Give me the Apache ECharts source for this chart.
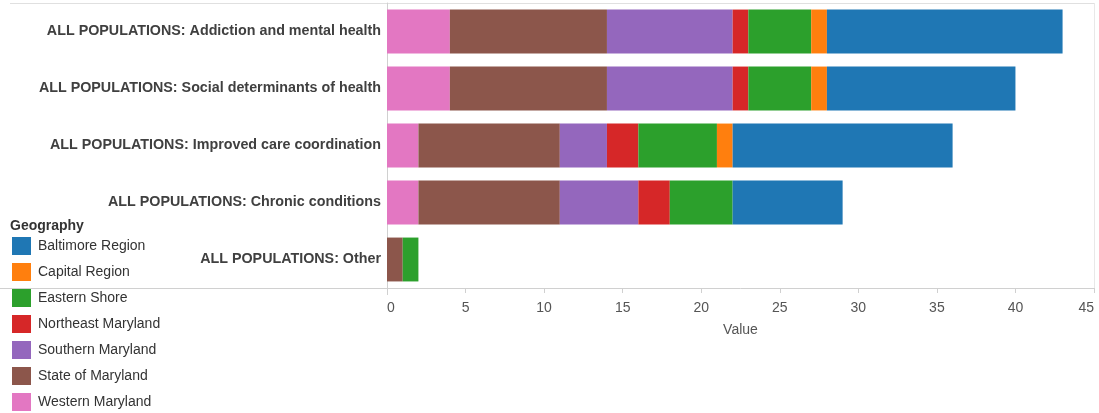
<!DOCTYPE html>
<html>
<head>
<meta charset="utf-8">
<script src="https://cdn.jsdelivr.net/npm/echarts@6/dist/echarts.min.js"></script>
<style>
html,body{margin:0;padding:0;background:#fff;}
#chart{width:1099px;height:413px;}
</style>
</head>
<body>
<div id="chart"></div>
<script>
var categories = [
  'ALL POPULATIONS: Addiction and mental health',
  'ALL POPULATIONS: Social determinants of health',
  'ALL POPULATIONS: Improved care coordination',
  'ALL POPULATIONS: Chronic conditions',
  'ALL POPULATIONS: Other'
];
var westernMaryland   = [4, 4, 2, 2, 0];
var stateOfMaryland   = [10, 10, 9, 9, 1];
var southernMaryland  = [8, 8, 3, 5, 0];
var northeastMaryland = [1, 1, 2, 2, 0];
var easternShore      = [4, 4, 5, 4, 1];
var capitalRegion     = [1, 1, 1, 0, 0];
var baltimoreRegion   = [15, 12, 14, 7, 0];
var xTicks = [0, 5, 10, 15, 20, 25, 30, 35, 40, 45];

var seriesDefs = [
  {name: 'Western Maryland', data: westernMaryland, color: '#e377c2'},
  {name: 'State of Maryland', data: stateOfMaryland, color: '#8c564b'},
  {name: 'Southern Maryland', data: southernMaryland, color: '#9467bd'},
  {name: 'Northeast Maryland', data: northeastMaryland, color: '#d62728'},
  {name: 'Eastern Shore', data: easternShore, color: '#2ca02c'},
  {name: 'Capital Region', data: capitalRegion, color: '#ff7f0e'},
  {name: 'Baltimore Region', data: baltimoreRegion, color: '#1f77b4'}
];
var legendOrder = ['Baltimore Region','Capital Region','Eastern Shore','Northeast Maryland','Southern Maryland','State of Maryland','Western Maryland'];

var chart = echarts.init(document.getElementById('chart'), null, {renderer: 'canvas'});
var font = '"Liberation Sans", Arial, sans-serif';
chart.setOption({
  animation: false,
  textStyle: {fontFamily: font},
  grid: {left: 387, right: 5, top: 3, bottom: 125, containLabel: false, outerBoundsMode: 'none'},
  xAxis: {
    type: 'value', min: xTicks[0], max: xTicks[xTicks.length - 1], interval: 5,
    name: 'Value', nameLocation: 'middle', nameGap: 35,
    nameTextStyle: {color: '#555', fontSize: 14, fontFamily: font},
    axisLine: {show: true, lineStyle: {color: '#d0d0d0'}},
    axisTick: {show: true, length: 5, lineStyle: {color: '#d0d0d0'}},
    axisLabel: {color: '#555', fontSize: 14, margin: 13, fontFamily: font,
      alignMinLabel: 'left', alignMaxLabel: 'right'},
    splitLine: {show: false}
  },
  yAxis: {
    type: 'category', data: categories, inverse: true,
    axisLine: {show: true, lineStyle: {color: '#d0d0d0'}},
    axisTick: {show: false},
    axisLabel: {color: '#404040', fontSize: 14.3, fontWeight: 'bold', margin: 6, fontFamily: font}
  },
  legend: {
    orient: 'vertical', left: 12, top: 237, height: 200, padding: 0,
    itemWidth: 19, itemHeight: 18, itemGap: 8, icon: 'rect',
    data: legendOrder,
    textStyle: {color: '#333', fontSize: 14, fontFamily: font, padding: [0, 0, 0, 2]}
  },
  graphic: [
    {type: 'text', left: 10, top: 219, style: {text: 'Geography', font: 'bold 14px ' + font, fill: '#333'}},
    {type: 'line', shape: {x1: 10, y1: 3.5, x2: 1094, y2: 3.5}, style: {stroke: '#e0e0e0', lineWidth: 1}},
    {type: 'line', shape: {x1: 0, y1: 288.5, x2: 387, y2: 288.5}, style: {stroke: '#d0d0d0', lineWidth: 1}},
    {type: 'line', shape: {x1: 1094.5, y1: 3, x2: 1094.5, y2: 288}, style: {stroke: '#e8e8e8', lineWidth: 1}},
    {type: 'line', shape: {x1: 387.5, y1: 288, x2: 387.5, y2: 295}, style: {stroke: '#d0d0d0', lineWidth: 1}}
  ],
  series: seriesDefs.map(function (s) {
    return {
      name: s.name, type: 'bar', stack: 'total', data: s.data,
      barCategoryGap: '23%',
      itemStyle: {color: s.color},
      emphasis: {disabled: true}
    };
  })
});
</script>
</body>
</html>
